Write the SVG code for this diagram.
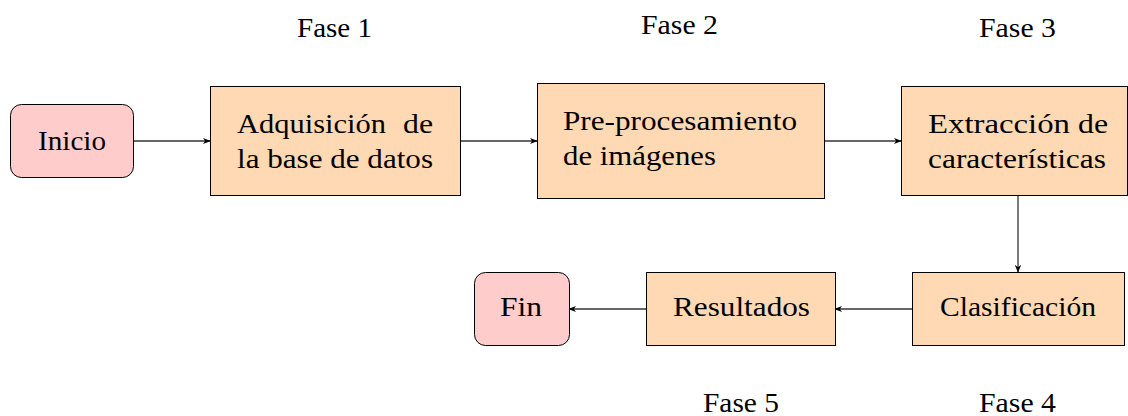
<svg xmlns="http://www.w3.org/2000/svg" width="1128" height="416" viewBox="0 0 1128 416">
<style>
.t{font-family:'Liberation Serif','DejaVu Serif','Times New Roman',serif;font-size:27px;fill:#000}
.p{fill:#ffd9b3;stroke:#000;stroke-width:1}
.s{fill:#ffcccc;stroke:#000;stroke-width:1}
.c{stroke:#333;stroke-width:1.3;fill:none;marker-end:url(#ah)}
</style>
<defs>
<marker id="ah" viewBox="0 0 10 10" refX="9" refY="5" markerWidth="8" markerHeight="8" markerUnits="userSpaceOnUse" orient="auto">
<path d="M0,1 L10,5 L0,9 L3,5 Z" fill="#000"/>
</marker>
</defs>
<rect width="1128" height="416" fill="#fff"/>
<g id="labels">
<text class="t" x="297" y="37" textLength="75" lengthAdjust="spacingAndGlyphs">Fase 1</text>
<text class="t" x="641" y="34" textLength="77" lengthAdjust="spacingAndGlyphs">Fase 2</text>
<text class="t" x="979" y="37" textLength="77" lengthAdjust="spacingAndGlyphs">Fase 3</text>
<text class="t" x="703" y="412" textLength="76" lengthAdjust="spacingAndGlyphs">Fase 5</text>
<text class="t" x="979" y="412" textLength="77" lengthAdjust="spacingAndGlyphs">Fase 4</text>
</g>
<g id="connectors">
<line class="c" x1="133" y1="141" x2="210" y2="141"/>
<line class="c" x1="460" y1="141" x2="537" y2="141"/>
<line class="c" x1="824" y1="141" x2="901" y2="141"/>
<line class="c" x1="1018" y1="195" x2="1018" y2="272"/>
<line class="c" x1="912" y1="309" x2="835" y2="309"/>
<line class="c" x1="646" y1="309" x2="569" y2="309"/>
</g>
<g id="inicio">
<rect class="s" x="10.5" y="104.5" width="123" height="73" rx="11"/>
<text class="t" x="38" y="150" textLength="68" lengthAdjust="spacingAndGlyphs">Inicio</text>
</g>
<g id="adquisicion">
<rect class="p" x="210.5" y="86.5" width="250" height="109"/>
<text class="t" y="133"><tspan x="237" textLength="149" lengthAdjust="spacingAndGlyphs">Adquisición</tspan><tspan x="403" textLength="30" lengthAdjust="spacingAndGlyphs">de</tspan></text>
<text class="t" x="237" y="168" textLength="196" lengthAdjust="spacingAndGlyphs">la base de datos</text>
</g>
<g id="preprocesamiento">
<rect class="p" x="537.5" y="83.5" width="287" height="115"/>
<text class="t" x="563" y="130" textLength="234" lengthAdjust="spacingAndGlyphs">Pre-procesamiento</text>
<text class="t" x="563" y="165" textLength="153" lengthAdjust="spacingAndGlyphs">de imágenes</text>
</g>
<g id="extraccion">
<rect class="p" x="901.5" y="86.5" width="226" height="109"/>
<text class="t" y="133"><tspan x="928" textLength="142" lengthAdjust="spacingAndGlyphs">Extracción</tspan><tspan x="1078" textLength="30" lengthAdjust="spacingAndGlyphs">de</tspan></text>
<text class="t" x="928" y="168" textLength="178" lengthAdjust="spacingAndGlyphs">características</text>
</g>
<g id="clasificacion">
<rect class="p" x="912.5" y="272.5" width="212" height="73"/>
<text class="t" x="940" y="316" textLength="156" lengthAdjust="spacingAndGlyphs">Clasificación</text>
</g>
<g id="resultados">
<rect class="p" x="646.5" y="272.5" width="189" height="73"/>
<text class="t" x="673" y="316" textLength="137" lengthAdjust="spacingAndGlyphs">Resultados</text>
</g>
<g id="fin">
<rect class="s" x="474.5" y="272.5" width="95" height="73" rx="11"/>
<text class="t" x="500" y="316" textLength="42" lengthAdjust="spacingAndGlyphs">Fin</text>
</g>
</svg>
